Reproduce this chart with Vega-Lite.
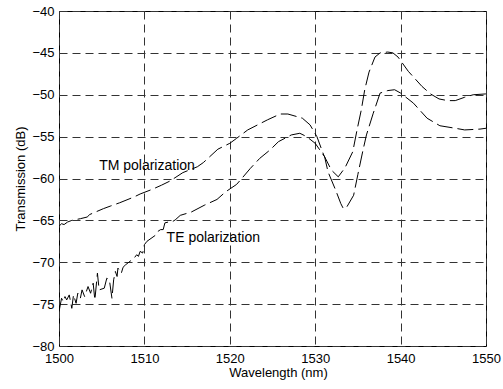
{
  "$schema": "https://vega.github.io/schema/vega-lite/v6.json",
  "width": 427,
  "height": 335,
  "autosize": "none",
  "padding": {"left": 59, "top": 11, "right": 17, "bottom": 43},
  "background": "white",
  "config": {
    "view": {"stroke": "black", "strokeWidth": 1},
    "font": "Liberation Sans",
    "axis": {
      "labelFont": "Liberation Sans",
      "titleFont": "Liberation Sans",
      "labelFontSize": 13,
      "titleFontSize": 13,
      "labelColor": "black",
      "titleColor": "black",
      "titleFontWeight": "normal",
      "ticks": false,
      "domain": false,
      "grid": true,
      "gridColor": "#333333",
      "gridOpacity": 1,
      "gridDash": [8, 5],
      "gridWidth": 1,
      "labelFlush": false,
      "labelOverlap": false
    }
  },
  "datasets": {
    "curves": [
      {"wl": 1500, "db": -65.7, "pol": "TM"},
      {"wl": 1500.3, "db": -65.4, "pol": "TM"},
      {"wl": 1500.6, "db": -65.5, "pol": "TM"},
      {"wl": 1501, "db": -65.2, "pol": "TM"},
      {"wl": 1501.5, "db": -65.0, "pol": "TM"},
      {"wl": 1502.5, "db": -64.8, "pol": "TM"},
      {"wl": 1503.3, "db": -64.6, "pol": "TM"},
      {"wl": 1503.6, "db": -64.3, "pol": "TM"},
      {"wl": 1505.2, "db": -63.6, "pol": "TM"},
      {"wl": 1506, "db": -63.3, "pol": "TM"},
      {"wl": 1507.1, "db": -62.9, "pol": "TM"},
      {"wl": 1508.8, "db": -62.2, "pol": "TM"},
      {"wl": 1509.5, "db": -61.85, "pol": "TM"},
      {"wl": 1510.9, "db": -61.3, "pol": "TM"},
      {"wl": 1512, "db": -60.8, "pol": "TM"},
      {"wl": 1513, "db": -60.3, "pol": "TM"},
      {"wl": 1514.5, "db": -59.3, "pol": "TM"},
      {"wl": 1516.2, "db": -58.6, "pol": "TM"},
      {"wl": 1516.9, "db": -58.1, "pol": "TM"},
      {"wl": 1518.6, "db": -56.5, "pol": "TM"},
      {"wl": 1520, "db": -55.8, "pol": "TM"},
      {"wl": 1520.8, "db": -55.2, "pol": "TM"},
      {"wl": 1522.1, "db": -54.2, "pol": "TM"},
      {"wl": 1524.4, "db": -53.0, "pol": "TM"},
      {"wl": 1525.9, "db": -52.3, "pol": "TM"},
      {"wl": 1526.8, "db": -52.3, "pol": "TM"},
      {"wl": 1528.5, "db": -52.8, "pol": "TM"},
      {"wl": 1529.4, "db": -53.6, "pol": "TM"},
      {"wl": 1530.2, "db": -55.0, "pol": "TM"},
      {"wl": 1531.0, "db": -57.2, "pol": "TM"},
      {"wl": 1531.9, "db": -59.0, "pol": "TM"},
      {"wl": 1532.7, "db": -59.8, "pol": "TM"},
      {"wl": 1533.5, "db": -58.7, "pol": "TM"},
      {"wl": 1534.4, "db": -56.8, "pol": "TM"},
      {"wl": 1534.9, "db": -54.2, "pol": "TM"},
      {"wl": 1535.4, "db": -51.8, "pol": "TM"},
      {"wl": 1535.8, "db": -49.4, "pol": "TM"},
      {"wl": 1536.3, "db": -47.3, "pol": "TM"},
      {"wl": 1537.0, "db": -45.5, "pol": "TM"},
      {"wl": 1537.6, "db": -45.0, "pol": "TM"},
      {"wl": 1538.5, "db": -44.9, "pol": "TM"},
      {"wl": 1539.1, "db": -45.0, "pol": "TM"},
      {"wl": 1539.7, "db": -45.5, "pol": "TM"},
      {"wl": 1540.9, "db": -47.2, "pol": "TM"},
      {"wl": 1542.5, "db": -49.0, "pol": "TM"},
      {"wl": 1543.5, "db": -49.9, "pol": "TM"},
      {"wl": 1544.5, "db": -50.5, "pol": "TM"},
      {"wl": 1545.5, "db": -50.7, "pol": "TM"},
      {"wl": 1546.4, "db": -50.7, "pol": "TM"},
      {"wl": 1547.5, "db": -50.3, "pol": "TM"},
      {"wl": 1548.5, "db": -50.0, "pol": "TM"},
      {"wl": 1550, "db": -49.9, "pol": "TM"},
      {"wl": 1500, "db": -75.9, "pol": "TE"},
      {"wl": 1500.3, "db": -74.3, "pol": "TE"},
      {"wl": 1500.5, "db": -74.7, "pol": "TE"},
      {"wl": 1500.7, "db": -74.1, "pol": "TE"},
      {"wl": 1500.9, "db": -74.5, "pol": "TE"},
      {"wl": 1501.2, "db": -73.9, "pol": "TE"},
      {"wl": 1501.5, "db": -75.5, "pol": "TE"},
      {"wl": 1501.7, "db": -73.9, "pol": "TE"},
      {"wl": 1502.0, "db": -74.9, "pol": "TE"},
      {"wl": 1502.2, "db": -73.7, "pol": "TE"},
      {"wl": 1502.5, "db": -74.3, "pol": "TE"},
      {"wl": 1502.7, "db": -73.3, "pol": "TE"},
      {"wl": 1503.0, "db": -74.1, "pol": "TE"},
      {"wl": 1503.4, "db": -72.9, "pol": "TE"},
      {"wl": 1503.7, "db": -73.7, "pol": "TE"},
      {"wl": 1504.0, "db": -72.5, "pol": "TE"},
      {"wl": 1504.2, "db": -74.5, "pol": "TE"},
      {"wl": 1504.5, "db": -71.3, "pol": "TE"},
      {"wl": 1504.7, "db": -73.3, "pol": "TE"},
      {"wl": 1505.3, "db": -73.1, "pol": "TE"},
      {"wl": 1505.6, "db": -71.9, "pol": "TE"},
      {"wl": 1505.9, "db": -72.1, "pol": "TE"},
      {"wl": 1506.2, "db": -74.3, "pol": "TE"},
      {"wl": 1506.4, "db": -72.1, "pol": "TE"},
      {"wl": 1506.6, "db": -71.1, "pol": "TE"},
      {"wl": 1506.8, "db": -71.7, "pol": "TE"},
      {"wl": 1506.9, "db": -70.7, "pol": "TE"},
      {"wl": 1507.3, "db": -71.3, "pol": "TE"},
      {"wl": 1507.5, "db": -70.6, "pol": "TE"},
      {"wl": 1507.8, "db": -70.3, "pol": "TE"},
      {"wl": 1508.8, "db": -69.5, "pol": "TE"},
      {"wl": 1509.1, "db": -69.1, "pol": "TE"},
      {"wl": 1509.3, "db": -69.3, "pol": "TE"},
      {"wl": 1509.5, "db": -68.7, "pol": "TE"},
      {"wl": 1509.8, "db": -68.9, "pol": "TE"},
      {"wl": 1510.0, "db": -67.9, "pol": "TE"},
      {"wl": 1510.3, "db": -67.5, "pol": "TE"},
      {"wl": 1511.4, "db": -66.7, "pol": "TE"},
      {"wl": 1511.6, "db": -66.3, "pol": "TE"},
      {"wl": 1511.9, "db": -66.1, "pol": "TE"},
      {"wl": 1512.2, "db": -66.1, "pol": "TE"},
      {"wl": 1512.4, "db": -65.3, "pol": "TE"},
      {"wl": 1512.8, "db": -65.2, "pol": "TE"},
      {"wl": 1513.2, "db": -65.2, "pol": "TE"},
      {"wl": 1513.6, "db": -64.95, "pol": "TE"},
      {"wl": 1514.2, "db": -64.4, "pol": "TE"},
      {"wl": 1515.5, "db": -64.0, "pol": "TE"},
      {"wl": 1517, "db": -63.2, "pol": "TE"},
      {"wl": 1518.5, "db": -62.5, "pol": "TE"},
      {"wl": 1519.5, "db": -61.6, "pol": "TE"},
      {"wl": 1520.8, "db": -60.7, "pol": "TE"},
      {"wl": 1521.4, "db": -60.0, "pol": "TE"},
      {"wl": 1522.4, "db": -58.8, "pol": "TE"},
      {"wl": 1523.5, "db": -57.6, "pol": "TE"},
      {"wl": 1524.7, "db": -56.6, "pol": "TE"},
      {"wl": 1525.7, "db": -55.6, "pol": "TE"},
      {"wl": 1527.2, "db": -54.8, "pol": "TE"},
      {"wl": 1528.2, "db": -54.6, "pol": "TE"},
      {"wl": 1529.0, "db": -55.0, "pol": "TE"},
      {"wl": 1530.0, "db": -55.8, "pol": "TE"},
      {"wl": 1531.1, "db": -57.4, "pol": "TE"},
      {"wl": 1531.5, "db": -59.2, "pol": "TE"},
      {"wl": 1532.4, "db": -61.4, "pol": "TE"},
      {"wl": 1533.0, "db": -63.0, "pol": "TE"},
      {"wl": 1533.3, "db": -63.6, "pol": "TE"},
      {"wl": 1533.7, "db": -63.4, "pol": "TE"},
      {"wl": 1534.5, "db": -62.0, "pol": "TE"},
      {"wl": 1535.0, "db": -59.5, "pol": "TE"},
      {"wl": 1535.6, "db": -56.6, "pol": "TE"},
      {"wl": 1536.0, "db": -54.8, "pol": "TE"},
      {"wl": 1536.8, "db": -52.2, "pol": "TE"},
      {"wl": 1537.6, "db": -49.8, "pol": "TE"},
      {"wl": 1538.5, "db": -49.5, "pol": "TE"},
      {"wl": 1539.3, "db": -49.4, "pol": "TE"},
      {"wl": 1540.0, "db": -49.8, "pol": "TE"},
      {"wl": 1541.5, "db": -51.0, "pol": "TE"},
      {"wl": 1543.1, "db": -52.8, "pol": "TE"},
      {"wl": 1544.6, "db": -53.7, "pol": "TE"},
      {"wl": 1546.4, "db": -54.0, "pol": "TE"},
      {"wl": 1547.5, "db": -54.2, "pol": "TE"},
      {"wl": 1549.3, "db": -54.1, "pol": "TE"},
      {"wl": 1550, "db": -54.0, "pol": "TE"}
    ],
    "labels": [
      {"wl": 1504.7, "db": -58.5, "text": "TM polarization"},
      {"wl": 1512.6, "db": -67.1, "text": "TE polarization"}
    ]
  },
  "layer": [
    {
      "data": {"name": "curves"},
      "mark": {"type": "line", "color": "black", "strokeWidth": 1, "strokeDash": [16, 5], "clip": true},
      "encoding": {
        "x": {
          "field": "wl", "type": "quantitative",
          "scale": {"domain": [1500, 1550], "nice": false, "zero": false},
          "axis": {
            "values": [1500, 1510, 1520, 1530, 1540, 1550],
            "format": "d",
            "title": "Wavelength (nm)",
            "labelPadding": 6,
            "labelFlush": false,
            "titleX": 219,
            "titleY": 30,
            "titleBaseline": "alphabetic",
            "titleAlign": "center"
          }
        },
        "y": {
          "field": "db", "type": "quantitative",
          "scale": {"domain": [-80, -40], "nice": false, "zero": false},
          "axis": {
            "values": [-80, -75, -70, -65, -60, -55, -50, -45, -40],
            "format": "d",
            "title": "Transmission (dB)",
            "labelPadding": 5,
            "labelFlush": false,
            "titleX": -35,
            "titleY": 167.5,
            "titleBaseline": "alphabetic",
            "titleAngle": -90,
            "titleAlign": "center"
          }
        },
        "detail": {"field": "pol", "type": "nominal"}
      }
    },
    {
      "data": {"name": "labels"},
      "mark": {"type": "text", "align": "left", "baseline": "middle", "fontSize": 14, "font": "Liberation Sans", "color": "black"},
      "encoding": {
        "x": {"field": "wl", "type": "quantitative"},
        "y": {"field": "db", "type": "quantitative"},
        "text": {"field": "text", "type": "nominal"}
      }
    }
  ]
}
